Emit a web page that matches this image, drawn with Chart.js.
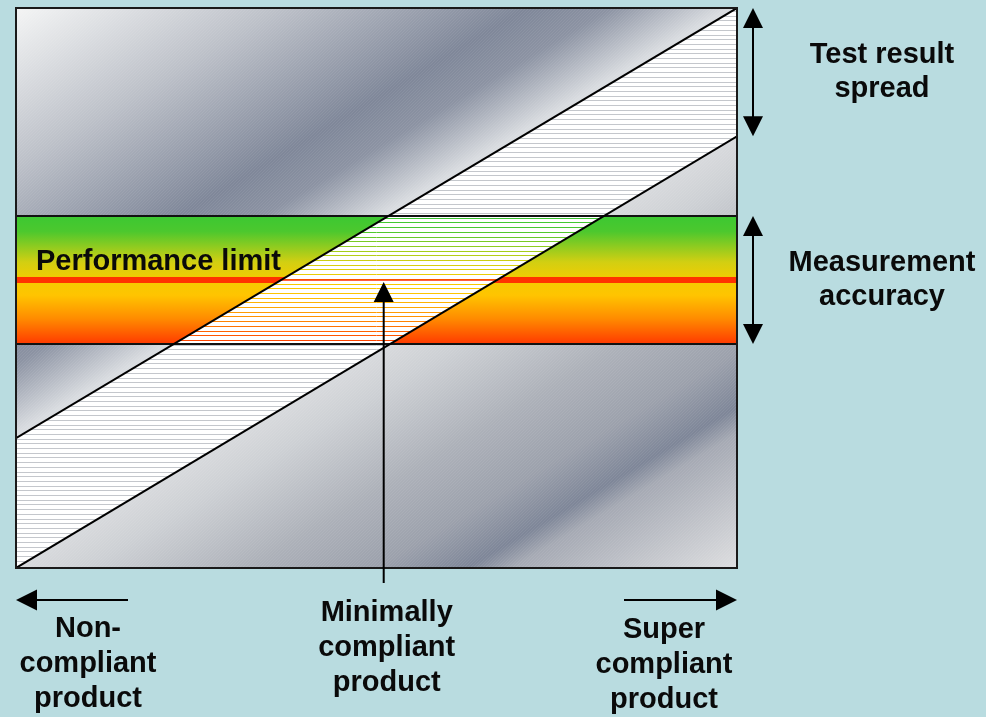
<!DOCTYPE html>
<html><head><meta charset="utf-8">
<script src="https://cdn.jsdelivr.net/npm/chart.js@4"></script>
<style>html,body{margin:0;padding:0;background:#b9dce0;}canvas{display:block}</style>
</head><body>
<canvas id="c" width="986" height="717"></canvas>
<script>
// ---- data (value space 0..100 on both axes) ----
const xDomain = [0, 100];
const upperLineY = [23.2, 100];      // upper test-result line at x=0 and x=100
const lowerLineY = [0, 77.1];        // lower test-result line at x=0 and x=100
const bandY = [40.0, 62.86];         // measurement accuracy band (bottom, top)
const performanceLimitY = 51.43;     // performance limit
const minimalX = 51.0;               // minimally compliant product
const bandLabel = 'Performance limit';
const spreadLabel = ['Test result', 'spread'];
const accuracyLabel = ['Measurement', 'accuracy'];
const leftLabel = ['Non-', 'compliant', 'product'];
const midLabel = ['Minimally', 'compliant', 'product'];
const rightLabel = ['Super', 'compliant', 'product'];

const FONT = 'bold 29px "Liberation Sans", Arial, sans-serif';

function px(chart, x, y) {
  return [chart.scales.x.getPixelForValue(x), chart.scales.y.getPixelForValue(y)];
}
function poly(ctx, pts) {
  ctx.beginPath();
  pts.forEach((p, i) => i ? ctx.lineTo(p[0], p[1]) : ctx.moveTo(p[0], p[1]));
  ctx.closePath();
}
function arrowHead(ctx, tipX, tipY, dirX, dirY, len, half) {
  const bx = tipX - dirX * len, by = tipY - dirY * len;
  ctx.beginPath();
  ctx.moveTo(tipX, tipY);
  ctx.lineTo(bx - dirY * half, by + dirX * half);
  ctx.lineTo(bx + dirY * half, by - dirX * half);
  ctx.closePath();
  ctx.fill();
}
function seg(ctx, x1, y1, x2, y2) {
  ctx.beginPath(); ctx.moveTo(x1, y1); ctx.lineTo(x2, y2); ctx.stroke();
}
function bandGradient(ctx, top, bot) {
  const g = ctx.createLinearGradient(0, top, 0, bot);
  g.addColorStop(0, '#3cc832');
  g.addColorStop(0.12, '#4cc82e');
  g.addColorStop(0.36, '#d2cf12');
  g.addColorStop(0.5, '#f4cc00');
  g.addColorStop(0.62, '#ffc400');
  g.addColorStop(0.8, '#ff8c00');
  g.addColorStop(1, '#ff3a00');
  return g;
}

const diagram = {
  id: 'diagram',
  beforeDatasetsDraw(chart) {
    const ctx = chart.ctx, a = chart.chartArea;
    const L = a.left, T = a.top, R = a.right, B = a.bottom, W = R - L, H = B - T;
    const u0 = px(chart, xDomain[0], upperLineY[0]), u1 = px(chart, xDomain[1], upperLineY[1]);
    const l0 = px(chart, xDomain[0], lowerLineY[0]), l1 = px(chart, xDomain[1], lowerLineY[1]);
    const bTop = chart.scales.y.getPixelForValue(bandY[1]);
    const bBot = chart.scales.y.getPixelForValue(bandY[0]);
    const pl = chart.scales.y.getPixelForValue(performanceLimitY);

    const dx = u1[0] - u0[0], dy = u1[1] - u0[1];
    const len = Math.hypot(dx, dy);
    const nx = -dy / len, ny = dx / len;
    const sMax = W * nx + H * ny;
    const g = ctx.createLinearGradient(L, T, L + nx * sMax, T + ny * sMax);
    const st = [[0, '#f4f5f5'], [137, '#bcc0c8'], [262, '#7f8799'], [305, '#8c93a3'], [365, '#d9dce0'],
                [480, '#d8dadd'], [517, '#cdd0d4'], [600, '#adb1b9'], [665, '#9ca1ac'], [712, '#7e8698'],
                [735, '#a6aab4'], [850, '#dddee0']];
    st.forEach(([s, c]) => g.addColorStop(Math.min(1, s / sMax), c));

    ctx.save();
    ctx.fillStyle = g;
    ctx.fillRect(L, T, W, H);
    // fine diagonal sheen
    ctx.save();
    ctx.beginPath(); ctx.rect(L, T, W, H); ctx.clip();
    ctx.strokeStyle = 'rgba(255,255,255,0.07)';
    ctx.lineWidth = 1;
    for (let k = -H; k < W; k += 3) seg(ctx, L + k, B, L + k + H, T);
    ctx.restore();

    // accuracy band
    const bg = bandGradient(ctx, bTop, bBot);
    ctx.fillStyle = bg;
    ctx.fillRect(L, bTop, W, bBot - bTop);
    ctx.fillStyle = '#ff3300';
    ctx.fillRect(L, pl - 3, W, 6);

    // white hatched strip between test-result lines
    ctx.save();
    poly(ctx, [u0, u1, l1, l0]);
    ctx.fillStyle = '#ffffff';
    ctx.fill();
    ctx.clip();
    ctx.lineWidth = 1;
    for (let y = T + 3; y < B; y += 4.7) {
      const yy = Math.round(y) + 0.5;
      ctx.strokeStyle = (yy > bTop && yy < bBot) ? bg : '#c4c7cc';
      seg(ctx, L, yy, R, yy);
    }
    ctx.strokeStyle = '#ff2a00';
    ctx.lineWidth = 1.5;
    seg(ctx, L, pl, R, pl);
    ctx.restore();

    // band borders
    ctx.strokeStyle = '#111';
    ctx.lineWidth = 2;
    seg(ctx, L, bTop, R, bTop);
    seg(ctx, L, bBot, R, bBot);
    ctx.restore();
  },
  afterDatasetsDraw(chart) {
    const ctx = chart.ctx, a = chart.chartArea;
    const L = a.left, T = a.top, R = a.right, B = a.bottom;
    ctx.save();
    ctx.strokeStyle = '#1a1a1a';
    ctx.lineWidth = 2;
    ctx.strokeRect(L, T, R - L, B - T);

    const bTop = chart.scales.y.getPixelForValue(bandY[1]);
    const bBot = chart.scales.y.getPixelForValue(bandY[0]);
    const pl = chart.scales.y.getPixelForValue(performanceLimitY);
    const uR = chart.scales.y.getPixelForValue(upperLineY[1]);
    const lR = chart.scales.y.getPixelForValue(lowerLineY[1]);
    const mx = chart.scales.x.getPixelForValue(minimalX);

    ctx.fillStyle = '#000';
    ctx.strokeStyle = '#000';
    ctx.lineWidth = 2;
    // vertical arrow to performance limit
    const tipY = pl + 2;
    seg(ctx, mx, B + 15, mx, tipY + 12);
    arrowHead(ctx, mx, tipY, 0, -1, 20, 10);
    // double arrows at right
    const ax = R + 16;
    seg(ctx, ax, uR + 12, ax, lR - 12);
    arrowHead(ctx, ax, uR, 0, -1, 20, 10);
    arrowHead(ctx, ax, lR, 0, 1, 20, 10);
    seg(ctx, ax, bTop + 12, ax, bBot - 12);
    arrowHead(ctx, ax, bTop, 0, -1, 20, 10);
    arrowHead(ctx, ax, bBot, 0, 1, 20, 10);
    // horizontal arrows below plot
    const ay = B + 32;
    seg(ctx, L + 12, ay, L + 112, ay);
    arrowHead(ctx, L, ay, -1, 0, 21, 10.5);
    seg(ctx, R - 113, ay, R - 12, ay);
    arrowHead(ctx, R, ay, 1, 0, 21, 10.5);

    // texts
    ctx.font = FONT;
    ctx.textBaseline = 'alphabetic';
    ctx.textAlign = 'left';
    ctx.fillStyle = '#0a0a0a';
    ctx.fillText(bandLabel, L + 20, pl - 10);
    ctx.textAlign = 'center';
    const rx = R + 145;
    spreadLabel.forEach((t, i) => ctx.fillText(t, rx, T + 55 + i * 34));
    accuracyLabel.forEach((t, i) => ctx.fillText(t, rx, bTop + 55 + i * 34));
    leftLabel.forEach((t, i) => ctx.fillText(t, L + 72, B + 69 + i * 35));
    midLabel.forEach((t, i) => ctx.fillText(t, mx + 3, B + 53 + i * 35));
    rightLabel.forEach((t, i) => ctx.fillText(t, R - 73, B + 70 + i * 35));
    ctx.restore();
  }
};

new Chart(document.getElementById('c'), {
  type: 'scatter',
  data: {
    datasets: [
      { label: 'Upper test result', data: [{ x: xDomain[0], y: upperLineY[0] }, { x: xDomain[1], y: upperLineY[1] }],
        showLine: true, borderColor: '#000', borderWidth: 2, pointRadius: 0, fill: false },
      { label: 'Lower test result', data: [{ x: xDomain[0], y: lowerLineY[0] }, { x: xDomain[1], y: lowerLineY[1] }],
        showLine: true, borderColor: '#000', borderWidth: 2, pointRadius: 0, fill: false }
    ]
  },
  options: {
    responsive: false,
    animation: false,
    events: [],
    layout: { padding: { left: 16, top: 8, right: 249, bottom: 149 } },
    scales: {
      x: { type: 'linear', min: xDomain[0], max: xDomain[1], display: false },
      y: { type: 'linear', min: 0, max: 100, display: false }
    },
    plugins: { legend: { display: false }, tooltip: { enabled: false }, title: { display: false } }
  },
  plugins: [diagram]
});
</script>
</body></html>
